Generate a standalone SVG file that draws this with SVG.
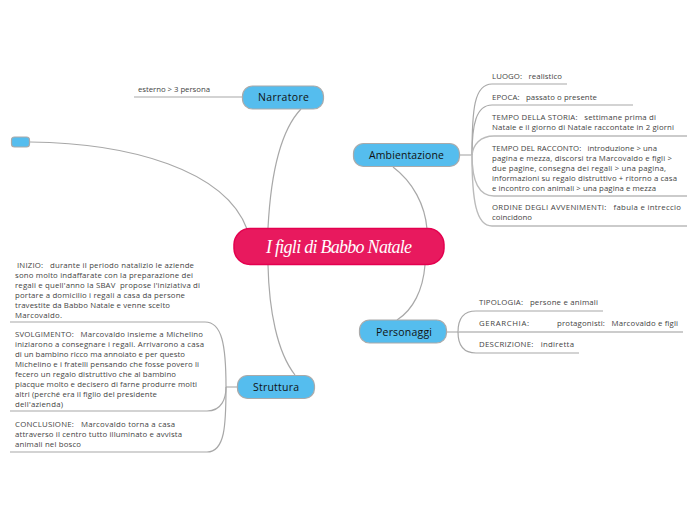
<svg xmlns="http://www.w3.org/2000/svg" width="697" height="520" viewBox="0 0 697 520">
<style>
.t{font-family:"Open Sans","Lato",sans-serif;font-size:7.8px;fill:#444;white-space:pre}
.n{font-family:"Open Sans","Lato",sans-serif;font-size:10.5px;fill:#111;text-anchor:middle}
.b{fill:#55bdee;stroke:#aaa;stroke-width:1.2}
.c{fill:none;stroke:#a8a8a8;stroke-width:1.2}
.s{fill:none;stroke:#bbb;stroke-width:1.4}
</style>
<rect width="697" height="520" fill="#fff"/>
<g id="connectors">
<path class="c" d="M301 109C281 130 271 170 268 228"/>
<path class="c" d="M30 142C130 143 225 170 247 229"/>
<path class="c" d="M268 265C269 310 277 352 295 375"/>
<path class="c" d="M393 167C413 182 425 205 427 229"/>
<path class="c" d="M425 265C423 290 413 310 397 320"/>
<path class="c" d="M242 97H134"/>
<path class="s" d="M460 155H472"/>
<path class="c" d="M472 155C472 110 474 84 492 84H567"/>
<path class="c" d="M472 155C472 125 476 105 492 105H633"/>
<path class="s" d="M472 155C473 145 480 136 494 136H687"/>
<path class="s" d="M472 155C472 180 478 196 494 196H687"/>
<path class="s" d="M472 155C472 200 476 226 492 226H687"/>
<path class="s" d="M447 332H458"/>
<path class="c" d="M458 332C458 320 463 311 476 311H603"/>
<path class="s" d="M458 332H683"/>
<path class="c" d="M458 332C458 344 463 353 476 353H579"/>
<path class="s" d="M237 387H226"/>
<path class="c" d="M226 387C226 345 222 322 205 322H10"/>
<path class="c" d="M226 387C226 398 222 411 207 411H10"/>
<path class="c" d="M226 387C226 425 225 452 207 452H10"/>
</g>
<g id="node-center">
<rect x="234" y="228.500" width="210" height="36" rx="16" fill="#e8195e" stroke="#e4004f" stroke-width="1.500"/>
<text x="339" y="252.500" text-anchor="middle" font-family="Liberation Serif,serif" font-style="italic" font-size="18" fill="#fff" textLength="146">I figli di Babbo Natale</text>
</g>
<g id="node-narratore">
<rect class="b" x="242.500" y="86" width="81" height="23" rx="10"/>
<text class="n" x="283.500" y="101" textLength="51">Narratore</text>
<text class="t" x="138" y="92" textLength="72">esterno &gt; 3 persona</text>
</g>
<g id="node-empty"><rect class="b" x="11.500" y="137" width="18" height="10" rx="3"/></g>
<g id="node-ambientazione">
<rect class="b" x="353.500" y="143.500" width="106" height="23" rx="10"/>
<text class="n" x="406.500" y="159" textLength="75">Ambientazione</text>
<text class="t" x="492" y="79" textLength="70">LUOGO:   realistico</text>
<text class="t" x="492" y="100" textLength="105">EPOCA:   passato o presente</text>
<text class="t" x="492" y="120" textLength="164">TEMPO DELLA STORIA:   settimane prima di</text>
<text class="t" x="492" y="130" textLength="182">Natale e il giorno di Natale raccontate in 2 giorni</text>
<text class="t" x="492" y="151" textLength="165">TEMPO DEL RACCONTO:   introduzione &gt; una</text>
<text class="t" x="492" y="161" textLength="180">pagina e mezza, discorsi tra Marcovaldo e figli &gt;</text>
<text class="t" x="492" y="171" textLength="174">due pagine, consegna dei regali &gt; una pagina,</text>
<text class="t" x="492" y="181" textLength="185">informazioni su regalo distruttivo + ritorno a casa</text>
<text class="t" x="492" y="191" textLength="164">e incontro con animali &gt; una pagina e mezza</text>
<text class="t" x="492" y="210" textLength="189">ORDINE DEGLI AVVENIMENTI:   fabula e intreccio</text>
<text class="t" x="492" y="220" textLength="40">coincidono</text>
</g>
<g id="node-personaggi">
<rect class="b" x="359.500" y="320" width="87" height="23" rx="10"/>
<text class="n" x="404" y="335.500" textLength="56">Personaggi</text>
<text class="t" x="479" y="305" textLength="119">TIPOLOGIA:   persone e animali</text>
<text class="t" x="479" y="326" textLength="50">GERARCHIA:</text>
<text class="t" x="557" y="326" textLength="121">protagonisti:   Marcovaldo e figli</text>
<text class="t" x="479" y="347" textLength="95">DESCRIZIONE:   indiretta</text>
</g>
<g id="node-struttura">
<rect class="b" x="237.500" y="375.500" width="77" height="23" rx="10"/>
<text class="n" x="276" y="391" textLength="46">Struttura</text>
<text class="t" x="17" y="268" textLength="177">INIZIO:   durante il periodo natalizio le aziende</text>
<text class="t" x="15" y="278" textLength="178">sono molto indaffarate con la preparazione dei</text>
<text class="t" x="15" y="288" textLength="185">regali e quell'anno la SBAV  propose l'iniziativa di</text>
<text class="t" x="15" y="298" textLength="170">portare a domicilio i regali a casa da persone</text>
<text class="t" x="15" y="308" textLength="155">travestite da Babbo Natale e venne scelto</text>
<text class="t" x="15" y="318" textLength="47">Marcovaldo.</text>
<text class="t" x="15" y="337" textLength="188">SVOLGIMENTO:   Marcovaldo insieme a Michelino</text>
<text class="t" x="15" y="347" textLength="189">iniziarono a consegnare i regali. Arrivarono a casa</text>
<text class="t" x="15" y="357" textLength="170">di un bambino ricco ma annoiato e per questo</text>
<text class="t" x="15" y="367" textLength="184">Michelino e i fratelli pensando che fosse povero li</text>
<text class="t" x="15" y="377" textLength="161">fecero un regalo distruttivo che al bambino</text>
<text class="t" x="15" y="387" textLength="182">piacque molto e decisero di farne produrre molti</text>
<text class="t" x="15" y="397" textLength="142">altri (perché era il figlio del presidente</text>
<text class="t" x="15" y="407" textLength="48">dell'azienda)</text>
<text class="t" x="15" y="427" textLength="160">CONCLUSIONE:   Marcovaldo torna a casa</text>
<text class="t" x="15" y="437" textLength="167">attraverso il centro tutto illuminato e avvista</text>
<text class="t" x="15" y="447" textLength="66">animali nel bosco</text>
</g>
</svg>
